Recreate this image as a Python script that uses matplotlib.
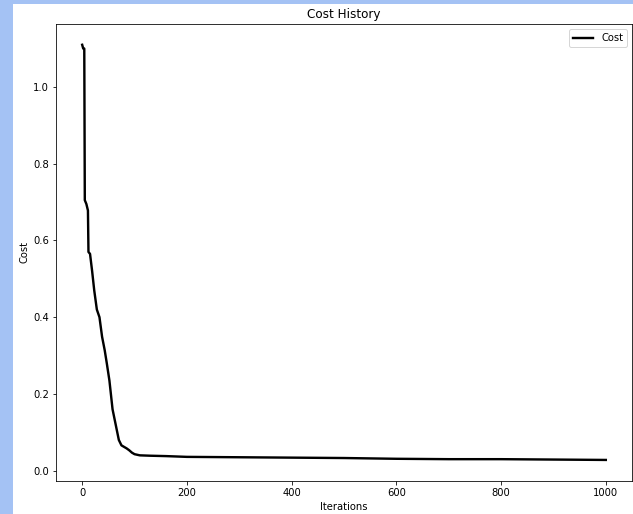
import matplotlib
matplotlib.use("Agg")
import matplotlib.pyplot as plt
from matplotlib.patches import Rectangle

iterations = [0, 2, 4, 5, 8, 11, 12, 15, 19, 23, 28, 33, 38, 43, 47, 52, 58,
              64, 70, 75, 80, 85, 90, 95, 100, 110, 130, 160, 200, 300, 400,
              500, 600, 700, 800, 900, 1000]
costs = [1.11, 1.10, 1.10, 0.705, 0.695, 0.678, 0.570, 0.565, 0.520, 0.470,
         0.420, 0.400, 0.349, 0.314, 0.280, 0.235, 0.160, 0.120, 0.080, 0.066,
         0.062, 0.058, 0.053, 0.047, 0.043, 0.040, 0.039, 0.038, 0.036, 0.035,
         0.034, 0.033, 0.031, 0.030, 0.030, 0.029, 0.028]

W, H = 633, 514
dpi = 72
fig = plt.figure(figsize=(W / dpi, H / dpi), dpi=dpi, facecolor="#a4c2f4")
bg = Rectangle((13 / W, 0), 1 - 13 / W, 1 - 4 / H,
               transform=fig.transFigure, facecolor="white",
               edgecolor="none", zorder=-10)
fig.add_artist(bg)

ax = fig.add_axes([56 / W, (H - 480.7) / H, (632 - 56) / W, (480.7 - 24) / H])
ax.set_zorder(1)
ax.plot(iterations, costs, color="black", linewidth=2.4, label="Cost")
ax.set_title("Cost History", fontsize=12)
ax.set_xlabel("Iterations", fontsize=10)
ax.set_ylabel("Cost", fontsize=10)
ax.tick_params(labelsize=10)
ax.legend(loc="upper right", fontsize=10)

fig.savefig("out.png", dpi=dpi, facecolor=fig.get_facecolor())
